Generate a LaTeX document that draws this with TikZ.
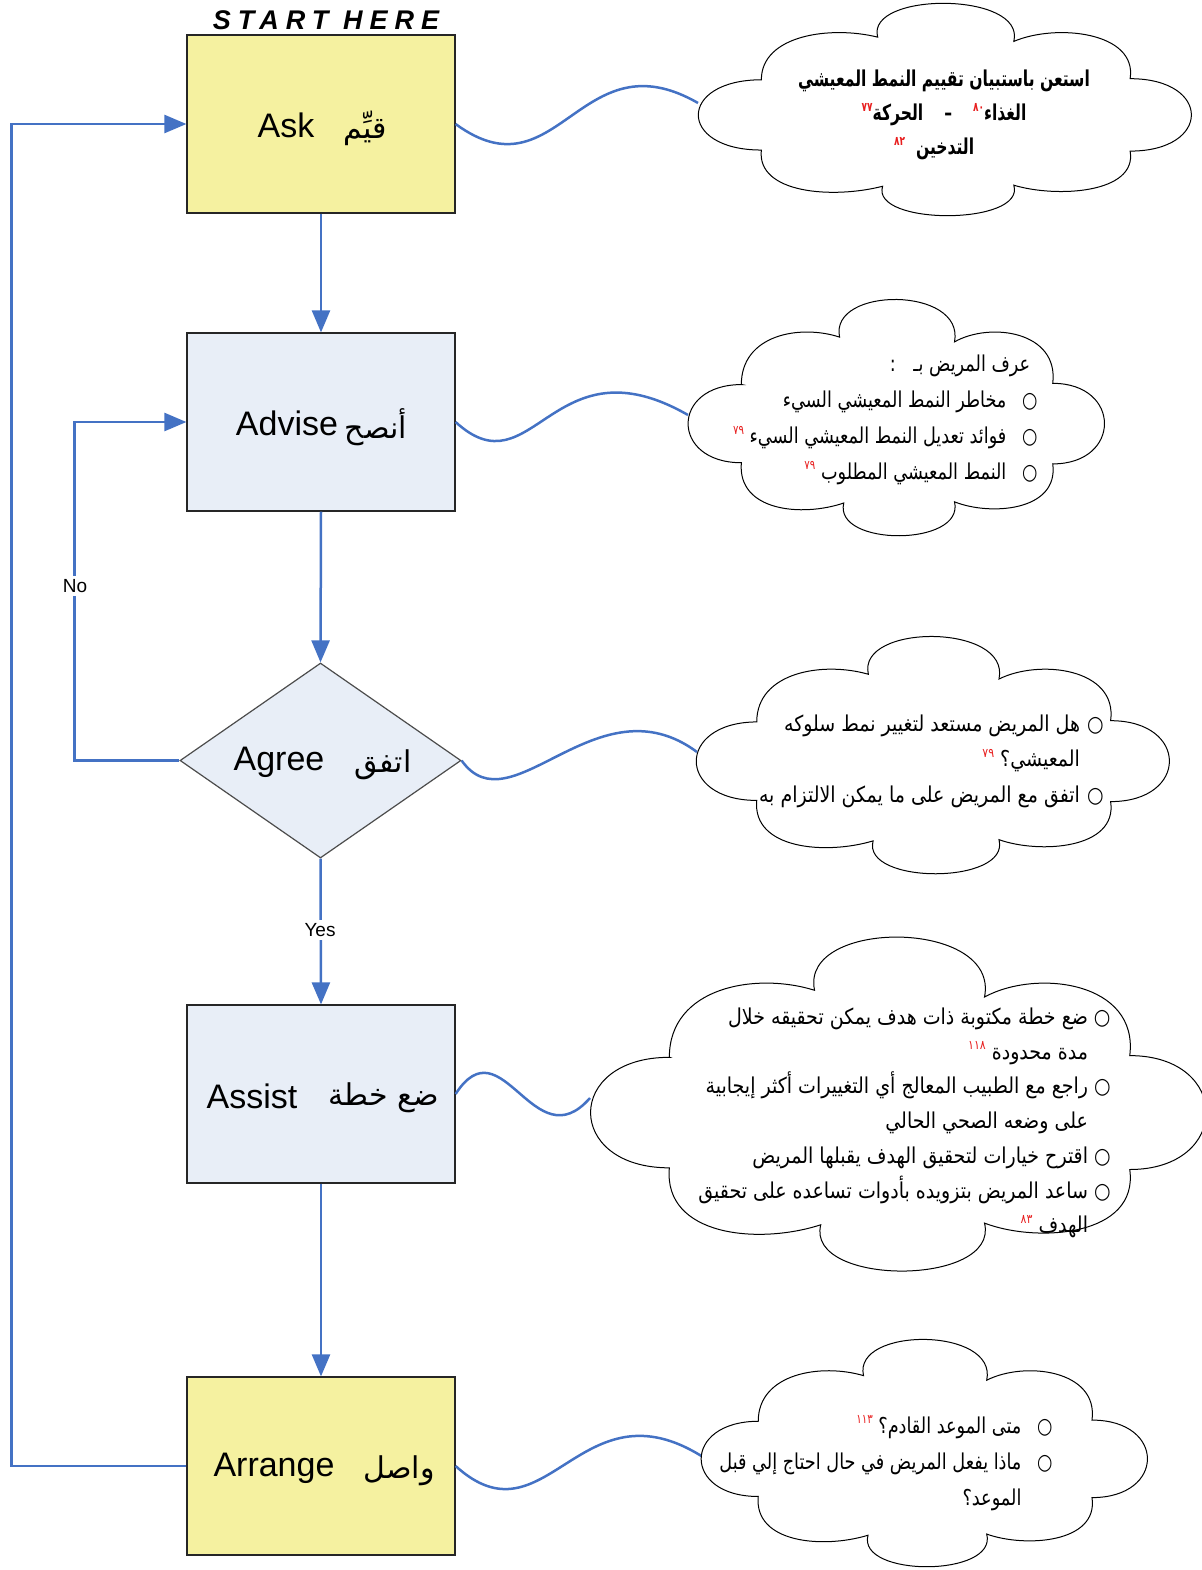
\documentclass[tikz,border=0pt]{standalone}
\usepackage{fontspec}
\setmainfont{Liberation Sans}
\newfontfamily\arabicfont[Script=Arabic]{DejaVu Sans}
\newfontfamily\refnofont[Script=Arabic,Color=E81E1E]{DejaVu Sans}
\newfontfamily\spacedfont[LetterSpace=26]{Liberation Sans}
\TeXXeTstate=1
\usetikzlibrary{arrows.meta,shapes.geometric}

\definecolor{boxyellow}{RGB}{245,241,160}
\definecolor{boxblue}{RGB}{232,238,247}
\definecolor{flowblue}{RGB}{68,114,196}

% right-to-left Arabic line
\newcommand\artxt[1]{{\arabicfont\beginR #1\endR}}
% small red reference number (colour comes from the font itself)
\newcommand\refno[1]{\raisebox{0.8ex}{\refnofont\fontsize{5.5}{6}\selectfont #1}}
% bullet (rightmost in a right-to-left line) followed by a gap, and an empty stand-in
\newcommand\bul[1]{\hbox{○}\kern#1\relax}
\newcommand\nobul[1]{\hbox{\phantom{○}}\kern#1\relax}

% cloud outline, centred at (#1,#2) with half sizes #3 x #4 (pixel units)
\newcommand\cloudoutline[4]{%
  \begin{scope}[shift={(#1,#2)},xscale=#3,yscale=#4]
    \draw[cloudline]
      (-0.74,-0.27) .. controls (-0.74,-0.69) and (-0.46,-0.78) .. (-0.27,-0.67)
      .. controls (-0.32,-1.10) and (0.33,-1.10) .. (0.28,-0.63)
      .. controls (0.45,-0.80) and (0.78,-0.72) .. (0.75,-0.28)
      .. controls (1.08,-0.28) and (1.08,0.40) .. (0.75,0.40)
      .. controls (0.78,0.80) and (0.45,0.84) .. (0.28,0.72)
      .. controls (0.33,1.10) and (-0.30,1.10) .. (-0.25,0.73)
      .. controls (-0.45,0.85) and (-0.76,0.80) .. (-0.74,0.39)
      .. controls (-1.08,0.39) and (-1.08,-0.27) .. cycle;
  \end{scope}}

\tikzset{
  stepbox/.style={draw=black!85,line width=0.6pt,minimum width=134pt,minimum height=89pt,inner sep=0pt},
  decision/.style={diamond,draw=black!70,line width=0.6pt,fill=boxblue,minimum width=140.5pt,minimum height=97.5pt,inner sep=0pt},
  flow/.style={draw=flowblue,line width=1.25pt,-{Triangle[length=11pt,width=9pt]}},
  wave/.style={draw=flowblue,line width=1.25pt},
  cloudline/.style={draw=black,line width=0.5pt,fill=white},
  boxlabel/.style={font=\fontsize{17}{20}\selectfont,inner sep=0pt},
  boxarabic/.style={font=\arabicfont\fontsize{15}{18}\selectfont,inner sep=0pt},
  smalllabel/.style={font=\fontsize{9.5}{11}\selectfont,fill=white,inner sep=1.5pt},
  cloudtext/.style={inner sep=0pt},
}

\begin{document}
\begin{tikzpicture}[x=0.5pt,y=-0.5pt]
\useasboundingbox (0,0) rectangle (1202,1570);

% ---- process steps
\node[stepbox,fill=boxyellow] (ask) at (321,124) {};
\node[stepbox,fill=boxblue] (advise) at (321,422) {};
\node[decision] (agree) at (320.5,760.5) {};
\node[stepbox,fill=boxblue] (assist) at (321,1094) {};
\node[stepbox,fill=boxyellow] (arrange) at (321,1466) {};

\node[font=\spacedfont\bfseries\itshape\fontsize{13.5}{15}\selectfont,inner sep=0pt] (start) at (326,20) {START HERE};

\node[boxlabel] (askL) at (286,125) {Ask};
\node[boxarabic] (askA) at (365,128) {\artxt{قيِّم}};
\node[boxlabel] (adviseL) at (287,423) {Advise};
\node[boxarabic] (adviseA) at (376,427) {\artxt{أنصح}};
\node[boxlabel] (agreeL) at (279,762) {Agree};
\node[boxarabic] (agreeA) at (383,765) {\artxt{اتفق}};
\node[boxlabel] (assistL) at (252,1096) {Assist};
\node[boxarabic] (assistA) at (384,1098) {\artxt{ضع خطة}};
\node[boxlabel] (arrangeL) at (274,1468) {Arrange};
\node[boxarabic] (arrangeA) at (399,1471) {\artxt{واصل}};

% ---- main flow
\draw[flow] (ask.south) -- (advise.north);
\draw[flow] (advise.south) -- (agree.north);
\draw[flow] (agree.south) -- (assist.north);
\draw[flow] (assist.south) -- (arrange.north);
\draw[flow] (agree.west) -- ++(-105,0) |- (advise.west);
\draw[flow] (arrange.west) -- ++(-175,0) |- (ask.west);
\node[smalllabel] (yes) at (320,930) {Yes};
\node[smalllabel] (no) at (75,586) {No};

% ---- notes
\coordinate (n1) at (698,103);
\coordinate (n2) at (688,415);
\coordinate (n3) at (697,752);
\coordinate (n4) at (590,1098);
\coordinate (n5) at (703,1457);

\draw[wave] (ask.east) .. controls (558,199) and (580,35) .. (n1);
\draw[wave] (advise.east) .. controls (533,493) and (552,337) .. (n2);
\draw[wave] (agree.east) .. controls (511,830) and (597,678) .. (n3);
\draw[wave] (assist.east) .. controls (502,1022) and (534,1162) .. (n4);
\draw[wave] (arrange.east) .. controls (546,1548) and (580,1379) .. (n5);

\cloudoutline{944.5}{108.5}{247.5}{106.5}
\cloudoutline{896}{416.5}{209}{118.5}
\cloudoutline{932.5}{754}{237.5}{119}
\cloudoutline{898}{1102.5}{309}{167.5}
\cloudoutline{924}{1452}{224}{114}

\begin{scope}[shift={(944,115)},xscale=0.82,yscale=1.15,transform shape]
\node[cloudtext,align=center,font=\arabicfont\bfseries\fontsize{9.5}{14.8}\selectfont] (t1) at (0,0) {%
\artxt{استعن باستبيان تقييم النمط المعيشي}\\
\artxt{الغذاء\refno{٨٠}\quad\ –\quad\ الحركة\refno{٧٧}}\\
\artxt{\kern12pt التدخين\ \ \refno{٨٢}}};
\end{scope}

\begin{scope}[shift={(1038,420)},xscale=0.93,yscale=1.15,transform shape]
\node[cloudtext,align=right,anchor=east,font=\arabicfont\fontsize{9.5}{15.6}\selectfont] (t2) at (0,0) {%
\artxt{\kern4pt عرف المريض بـ\quad :}\\
\artxt{\bul{8.5pt}مخاطر النمط المعيشي السيء}\\
\artxt{\bul{8.5pt}فوائد تعديل النمط المعيشي السيء\ \refno{٧٩}}\\
\artxt{\bul{8.5pt}النمط المعيشي المطلوب\ \refno{٧٩}}};
\end{scope}

\begin{scope}[shift={(1104,761)},xscale=1.0,yscale=1.15,transform shape]
\node[cloudtext,align=right,anchor=east,font=\arabicfont\fontsize{9.5}{15.4}\selectfont] (t3) at (0,0) {%
\artxt{\bul{3.5pt}هل المريض مستعد لتغيير نمط سلوكه}\\
\artxt{\nobul{3.5pt}المعيشي؟\ \refno{٧٩}}\\
\artxt{\bul{3.5pt}اتفق مع المريض على ما يمكن الالتزام به}};
\end{scope}

\begin{scope}[shift={(1111,1123)},xscale=1.0,yscale=1.15,transform shape]
\node[cloudtext,align=right,anchor=east,font=\arabicfont\fontsize{9.5}{15.1}\selectfont] (t4) at (0,0) {%
\artxt{\bul{3pt}ضع خطة مكتوبة ذات هدف يمكن تحقيقه خلال}\\
\artxt{\nobul{3pt}مدة محدودة\ \refno{١١٨}}\\
\artxt{\bul{3pt}راجع مع الطبيب المعالج أي التغييرات أكثر إيجابية}\\
\artxt{\nobul{3pt}على وضعه الصحي الحالي}\\
\artxt{\bul{3pt}اقترح خيارات لتحقيق الهدف يقبلها المريض}\\
\artxt{\bul{3pt}ساعد المريض بتزويده بأدوات تساعده على تحقيق}\\
\artxt{\nobul{3pt}الهدف\ \refno{٨٣}}};
\end{scope}

\begin{scope}[shift={(1053,1463)},xscale=0.93,yscale=1.15,transform shape]
\node[cloudtext,align=right,anchor=east,font=\arabicfont\fontsize{9.5}{15.6}\selectfont] (t5) at (0,0) {%
\artxt{\bul{8.5pt}متى الموعد القادم؟\ \refno{١١٣}}\\
\artxt{\bul{8.5pt}ماذا يفعل المريض في حال احتاج إلي قبل}\\
\artxt{\nobul{8.5pt}الموعد؟}};
\end{scope}
\end{tikzpicture}
\end{document}
